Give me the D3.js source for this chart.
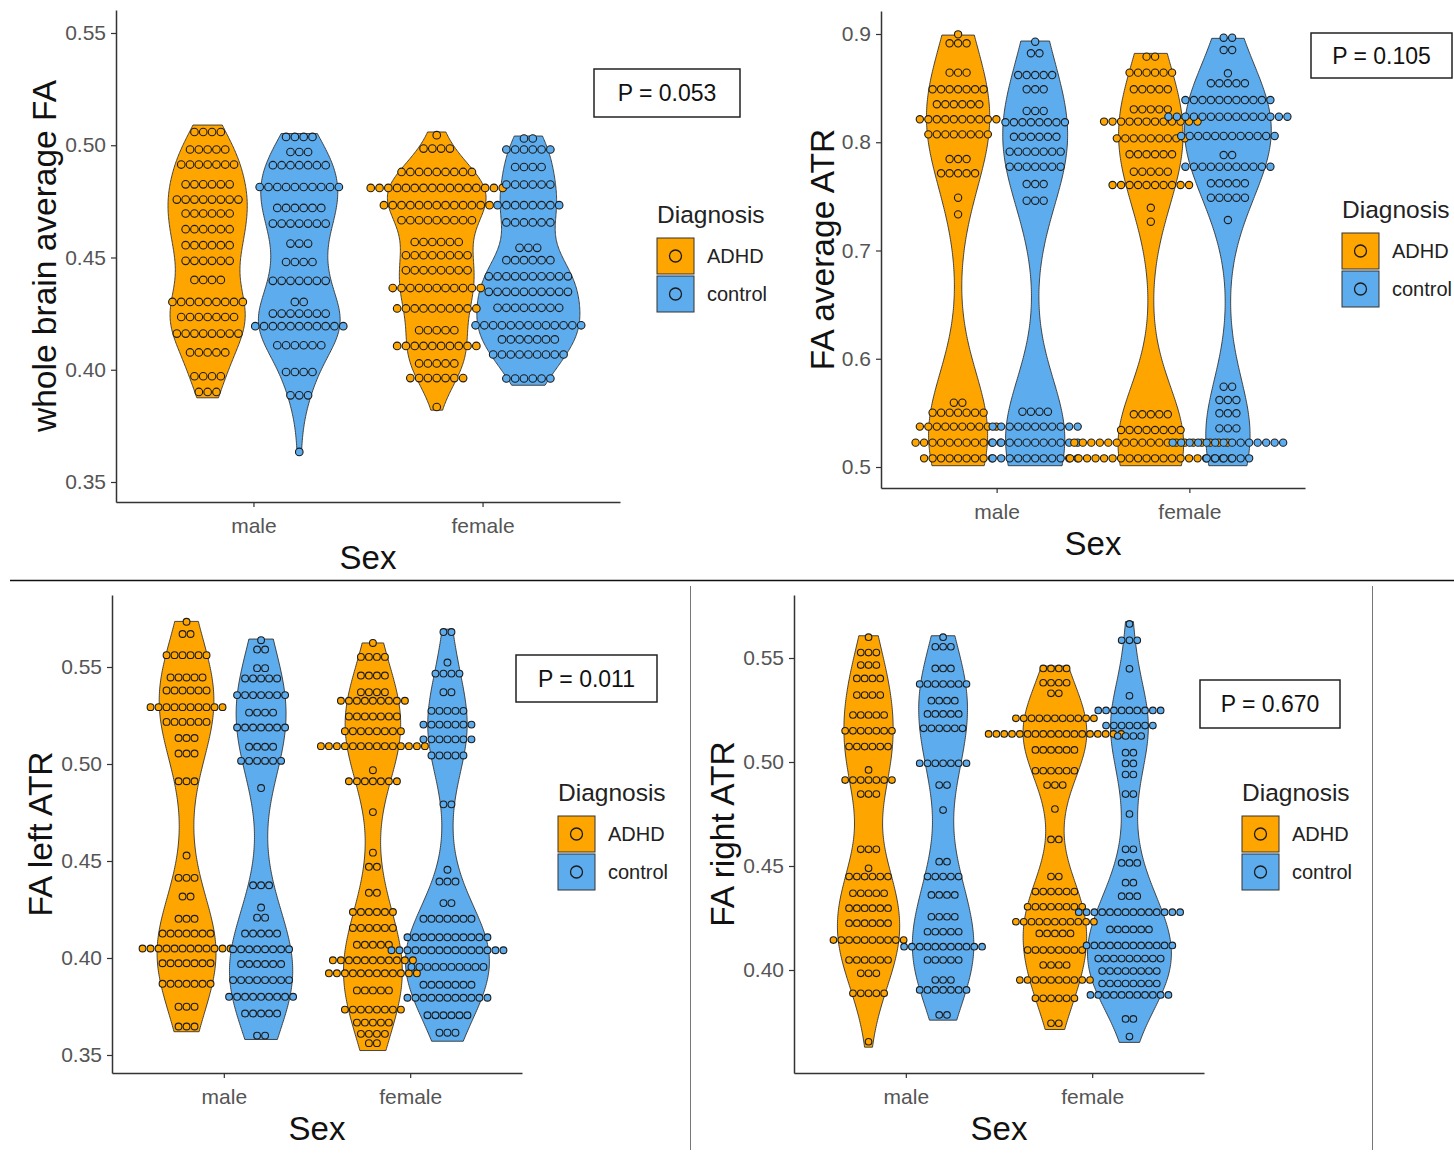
<!DOCTYPE html>
<html>
<head>
<meta charset="utf-8">
<script src="https://cdn.jsdelivr.net/npm/d3@7"></script>
<style>
  html, body { margin: 0; padding: 0; background: #fff; }
  svg { display: block; font-family: "Liberation Sans", Arial, sans-serif; }
</style>
</head>
<body>
<svg id="fig" width="1454" height="1159"></svg>
<script>
// ---------- categories ----------
const sexes = ["male", "female"];
const diagnoses = ["ADHD", "control"];
const diagnosisColors = ["#FFA500", "#5CACEE"];

// ---------- dot rows: [FA value, number of subjects in the row] ----------
// whole brain average FA
const wbfaAdhdMale = [[0.5059,4],[0.4981,5],[0.4914,7],[0.4826,6],[0.4758,8],[0.4696,6],[0.4626,6],[0.4555,6],[0.4485,6],[0.4400,4],[0.4302,9],[0.4235,7],[0.4161,8],[0.4077,5],[0.3971,4],[0.3901,3]];
const wbfaCtrlMale = [[0.5037,4],[0.4970,3],[0.4911,7],[0.4814,10],[0.4721,6],[0.4651,7],[0.4562,3],[0.4480,4],[0.4396,7],[0.4302,2],[0.4250,7],[0.4194,11],[0.4109,6],[0.3990,4],[0.3886,3],[0.3634,1]];
const wbfaAdhdFemale = [[0.5045,1],[0.4985,4],[0.4881,9],[0.4810,16],[0.4733,13],[0.4666,9],[0.4569,6],[0.4510,8],[0.4443,8],[0.4364,11],[0.4273,10],[0.4176,5],[0.4106,10],[0.4028,5],[0.3963,7],[0.3834,1]];
const wbfaCtrlFemale = [[0.5030,2],[0.4981,6],[0.4903,4],[0.4825,6],[0.4733,8],[0.4656,6],[0.4543,3],[0.4488,6],[0.4416,10],[0.4347,10],[0.4276,8],[0.4198,13],[0.4135,7],[0.4068,9],[0.3961,6]];
// violin extents [min, max]: male ADHD, male control, female ADHD, female control
const wbfaRanges = [[0.3875,0.5090],[0.3620,0.5052],[0.3820,0.5059],[0.3931,0.5041]];
const wbfaTicks = [0.35, 0.40, 0.45, 0.50, 0.55];

// FA average ATR
const atrAdhdMale = [[0.8997,1],[0.8914,3],[0.8643,3],[0.8489,7],[0.8351,6],[0.8212,10],[0.8073,8],[0.7845,3],[0.7713,5],[0.7488,1],[0.7334,1],[0.5594,2],[0.5502,7],[0.5373,10],[0.5225,11],[0.5080,9]];
const atrCtrlMale = [[0.8929,1],[0.8822,2],[0.8621,5],[0.8489,3],[0.8289,3],[0.8185,8],[0.8051,6],[0.7913,7],[0.7774,7],[0.7614,3],[0.7460,3],[0.5511,4],[0.5373,11],[0.5225,11],[0.5080,11]];
const atrAdhdFemale = [[0.8791,2],[0.8643,6],[0.8489,5],[0.8304,5],[0.8191,12],[0.8036,9],[0.7889,6],[0.7728,5],[0.7605,10],[0.7395,1],[0.7266,1],[0.5487,5],[0.5342,8],[0.5225,19],[0.5080,20]];
const atrCtrlFemale = [[0.8966,2],[0.8852,2],[0.8637,1],[0.8545,5],[0.8390,11],[0.8236,15],[0.8058,12],[0.7882,2],[0.7774,11],[0.7621,5],[0.7488,5],[0.7282,1],[0.5742,2],[0.5619,3],[0.5496,3],[0.5357,3],[0.5225,14],[0.5080,6]];
const atrRanges = [[0.5012,0.8990],[0.5012,0.8935],[0.5012,0.8821],[0.5012,0.8960]];
const atrTicks = [0.5, 0.6, 0.7, 0.8, 0.9];

// FA left ATR
const latrAdhdMale = [[0.5733,1],[0.5670,2],[0.5561,6],[0.5446,5],[0.5379,6],[0.5293,10],[0.5217,6],[0.5134,3],[0.5054,3],[0.4911,3],[0.4528,1],[0.4413,3],[0.4317,2],[0.4202,3],[0.4126,7],[0.4049,12],[0.3973,7],[0.3867,7],[0.3749,3],[0.3647,3]];
const latrCtrlMale = [[0.5638,1],[0.5590,2],[0.5494,2],[0.5441,5],[0.5355,7],[0.5265,4],[0.5188,7],[0.5089,4],[0.5016,6],[0.4876,1],[0.4375,3],[0.4260,1],[0.4208,2],[0.4126,5],[0.4045,8],[0.3969,6],[0.3886,8],[0.3800,9],[0.3714,5],[0.3600,2]];
const latrAdhdFemale = [[0.5624,1],[0.5552,4],[0.5456,4],[0.5370,4],[0.5326,9],[0.5245,7],[0.5169,8],[0.5092,14],[0.4968,1],[0.4911,7],[0.4752,1],[0.4543,1],[0.4470,2],[0.4336,2],[0.4237,6],[0.4155,6],[0.4068,5],[0.3988,11],[0.3921,12],[0.3833,5],[0.3734,8],[0.3667,5],[0.3609,4],[0.3561,2]];
const latrCtrlFemale = [[0.5680,2],[0.5523,1],[0.5466,4],[0.5370,2],[0.5274,5],[0.5203,7],[0.5127,7],[0.5044,5],[0.4792,2],[0.4455,1],[0.4394,3],[0.4283,2],[0.4202,7],[0.4107,11],[0.4040,15],[0.3954,10],[0.3862,7],[0.3795,11],[0.3705,6],[0.3615,3]];
const latrRanges = [[0.3620,0.5735],[0.3580,0.5644],[0.3523,0.5624],[0.3571,0.5695]];
const latrTicks = [0.35, 0.40, 0.45, 0.50, 0.55];

// FA right ATR
const ratrAdhdMale = [[0.5600,1],[0.5526,3],[0.5466,3],[0.5402,4],[0.5322,4],[0.5226,5],[0.5150,7],[0.5074,6],[0.4962,1],[0.4913,7],[0.4846,3],[0.4580,3],[0.4489,1],[0.4449,6],[0.4369,5],[0.4297,6],[0.4225,6],[0.4144,10],[0.4048,6],[0.3984,3],[0.3888,5],[0.3655,1]];
const ratrCtrlMale = [[0.5600,1],[0.5554,3],[0.5450,3],[0.5375,7],[0.5295,4],[0.5231,5],[0.5162,6],[0.4994,7],[0.4889,2],[0.4769,1],[0.4521,2],[0.4449,5],[0.4361,4],[0.4256,4],[0.4184,5],[0.4112,11],[0.4048,5],[0.3952,3],[0.3904,7],[0.3784,2]];
const ratrAdhdFemale = [[0.5450,4],[0.5381,4],[0.5330,2],[0.5210,11],[0.5135,18],[0.5058,6],[0.4958,6],[0.4889,3],[0.4774,1],[0.4628,2],[0.4449,2],[0.4377,6],[0.4304,8],[0.4232,11],[0.4176,5],[0.4096,8],[0.4024,4],[0.3952,10],[0.3864,6],[0.3744,2]];
const ratrCtrlFemale = [[0.5664,1],[0.5585,3],[0.5448,1],[0.5318,1],[0.5248,9],[0.5175,7],[0.5125,4],[0.5045,2],[0.4993,2],[0.4940,2],[0.4846,2],[0.4750,1],[0.4580,2],[0.4515,3],[0.4420,2],[0.4355,3],[0.4278,14],[0.4195,6],[0.4118,12],[0.4055,9],[0.3995,8],[0.3935,8],[0.3880,11],[0.3765,2],[0.3680,1]];
const ratrRanges = [[0.3629,0.5607],[0.3759,0.5607],[0.3714,0.5461],[0.3652,0.5675]];
const ratrTicks = [0.40, 0.45, 0.50, 0.55];

// ---------- panel layout ----------
const panels = [
  { yTitle: "whole brain average FA", pLabel: "P = 0.053", ticks: wbfaTicks, fmt: ".2f",
    groups: [wbfaAdhdMale, wbfaCtrlMale, wbfaAdhdFemale, wbfaCtrlFemale], ranges: wbfaRanges,
    frame: { x0: 116, x1: 620, y0: 10, y1: 502 }, domain: [0.34109, 0.56024], dot: 8.8,
    pBox: { x: 594, y: 69, w: 146, h: 48 }, legend: { x: 657, y: 214 }, yTitleX: 56 },
  { yTitle: "FA average ATR", pLabel: "P = 0.105", ticks: atrTicks, fmt: ".1f",
    groups: [atrAdhdMale, atrCtrlMale, atrAdhdFemale, atrCtrlFemale], ranges: atrRanges,
    frame: { x0: 881, x1: 1305, y0: 11, y1: 488 }, domain: [0.4806, 0.92125], dot: 8.5,
    pBox: { x: 1311, y: 33, w: 141, h: 45 }, legend: { x: 1342, y: 209 }, yTitleX: 834 },
  { yTitle: "FA left ATR", pLabel: "P = 0.011", ticks: latrTicks, fmt: ".2f",
    groups: [latrAdhdMale, latrCtrlMale, latrAdhdFemale, latrCtrlFemale], ranges: latrRanges,
    frame: { x0: 112, x1: 522, y0: 595, y1: 1073 }, domain: [0.34072, 0.58711], dot: 8.0,
    pBox: { x: 516, y: 655, w: 141, h: 47 }, legend: { x: 558, y: 792 }, yTitleX: 52 },
  { yTitle: "FA right ATR", pLabel: "P = 0.670", ticks: ratrTicks, fmt: ".2f",
    groups: [ratrAdhdMale, ratrCtrlMale, ratrAdhdFemale, ratrCtrlFemale], ranges: ratrRanges,
    frame: { x0: 794, x1: 1204, y0: 595, y1: 1073 }, domain: [0.35048, 0.58029], dot: 7.8,
    pBox: { x: 1200, y: 680, w: 140, h: 48 }, legend: { x: 1242, y: 792 }, yTitleX: 734 }
];

const svg = d3.select("#fig");
const ink = "#333333";

// ---------- page separators ----------
svg.append("line").attr("x1", 10).attr("x2", 1454).attr("y1", 580.5).attr("y2", 580.5)
  .attr("stroke", "#111").attr("stroke-width", 1.5);
svg.append("line").attr("x1", 690.5).attr("x2", 690.5).attr("y1", 586).attr("y2", 1150)
  .attr("stroke", "#777").attr("stroke-width", 1);
svg.append("line").attr("x1", 1372.5).attr("x2", 1372.5).attr("y1", 586).attr("y2", 1150)
  .attr("stroke", "#777").attr("stroke-width", 1);

// Gaussian kernel density with R's nrd0 bandwidth, evaluated over the trimmed data range
function violinDensity(rows, range) {
  const pts = rows.flatMap(([v, c]) => Array(c).fill(v)).sort(d3.ascending);
  const n = pts.length;
  const sd = d3.deviation(pts);
  const iqr = d3.quantile(pts, 0.75) - d3.quantile(pts, 0.25);
  const bw = 0.9 * Math.min(sd, iqr / 1.34) * Math.pow(n, -0.2);
  const k = u => Math.exp(-0.5 * u * u) / Math.sqrt(2 * Math.PI);
  return d3.range(0, 201).map(i => {
    const y = range[0] + (range[1] - range[0]) * i / 200;
    return [y, d3.sum(pts, p => k((y - p) / bw)) / (n * bw)];
  });
}

panels.forEach(P => {
  const g = svg.append("g");
  const f = P.frame;
  const x = d3.scalePoint().domain(sexes).range([f.x0, f.x1]).padding(0.6);
  const y = d3.scaleLinear().domain(P.domain).range([f.y1, f.y0]);
  const step = x.step();
  const dodge = 0.2 * step;
  const maxHalf = 0.225 * step;

  // groups in drawing order: male ADHD, male control, female ADHD, female control
  const groups = P.groups.map((rows, i) => ({
    rows,
    diag: i % 2,
    cx: x(sexes[Math.floor(i / 2)]) + (i % 2 === 0 ? -dodge : dodge),
    dens: violinDensity(rows, P.ranges[i])
  }));
  const dMax = d3.max(groups, gr => d3.max(gr.dens, d => d[1]));
  const w = d3.scaleLinear().domain([0, dMax]).range([0, maxHalf]);

  // violins
  groups.forEach(gr => {
    const area = d3.area()
      .y(d => y(d[0]))
      .x0(d => gr.cx - w(d[1]))
      .x1(d => gr.cx + w(d[1]));
    g.append("path").attr("d", area(gr.dens) + "Z")
      .attr("fill", diagnosisColors[gr.diag])
      .attr("stroke", ink).attr("stroke-width", 0.9);
  });

  // centred dot rows
  groups.forEach(gr => {
    gr.rows.forEach(([v, c]) => {
      for (let j = 0; j < c; j++) {
        g.append("circle")
          .attr("cx", gr.cx + (j - (c - 1) / 2) * P.dot)
          .attr("cy", y(v))
          .attr("r", P.dot / 2 - 0.6)
          .attr("fill", diagnosisColors[gr.diag])
          .attr("stroke", "#1c1c1c").attr("stroke-width", 1.1);
      }
    });
  });

  // axes
  const yAxis = d3.axisLeft(y).tickValues(P.ticks).tickFormat(d3.format(P.fmt))
    .tickSize(5).tickSizeOuter(0).tickPadding(5);
  const gy = g.append("g").attr("transform", `translate(${f.x0},0)`).call(yAxis);
  const xAxis = d3.axisBottom(x).tickSize(5).tickSizeOuter(0).tickPadding(11);
  const gx = g.append("g").attr("transform", `translate(0,${f.y1})`).call(xAxis);
  [gy, gx].forEach(ax => {
    ax.select(".domain").attr("stroke", ink).attr("stroke-width", 1.5);
    ax.selectAll(".tick line").attr("stroke", ink).attr("stroke-width", 1.2);
    ax.selectAll(".tick text").attr("fill", "#555555")
      .style("font-family", '"Liberation Sans", Arial, sans-serif').style("font-size", "21px");
  });

  // axis titles
  g.append("text").attr("x", (f.x0 + f.x1) / 2).attr("y", f.y1 + 67)
    .attr("text-anchor", "middle").style("font-size", "33px").attr("fill", "#111").text("Sex");
  g.append("text")
    .attr("transform", `translate(${P.yTitleX},${(f.y0 + f.y1) / 2}) rotate(-90)`)
    .attr("text-anchor", "middle").style("font-size", "33.5px").attr("fill", "#111").text(P.yTitle);

  // p-value box
  g.append("rect").attr("x", P.pBox.x).attr("y", P.pBox.y)
    .attr("width", P.pBox.w).attr("height", P.pBox.h)
    .attr("fill", "#fff").attr("stroke", "#222").attr("stroke-width", 1.5);
  g.append("text").attr("x", P.pBox.x + P.pBox.w / 2).attr("y", P.pBox.y + P.pBox.h / 2 + 8)
    .attr("text-anchor", "middle").style("font-size", "23px").attr("fill", "#111").text(P.pLabel);

  // legend
  const L = P.legend;
  g.append("text").attr("x", L.x).attr("y", L.y + 9).style("font-size", "24.5px")
    .attr("fill", "#222").text("Diagnosis");
  diagnoses.forEach((d, i) => {
    const ky = L.y + 24 + i * 38;
    g.append("rect").attr("x", L.x).attr("y", ky).attr("width", 37).attr("height", 36)
      .attr("fill", diagnosisColors[i]).attr("stroke", ink).attr("stroke-width", 1);
    g.append("circle").attr("cx", L.x + 18.5).attr("cy", ky + 18).attr("r", 6)
      .attr("fill", diagnosisColors[i]).attr("stroke", "#1c1c1c").attr("stroke-width", 1.3);
    g.append("text").attr("x", L.x + 50).attr("y", ky + 25).style("font-size", "20px")
      .attr("fill", "#222").text(d);
  });
});
</script>
</body>
</html>
